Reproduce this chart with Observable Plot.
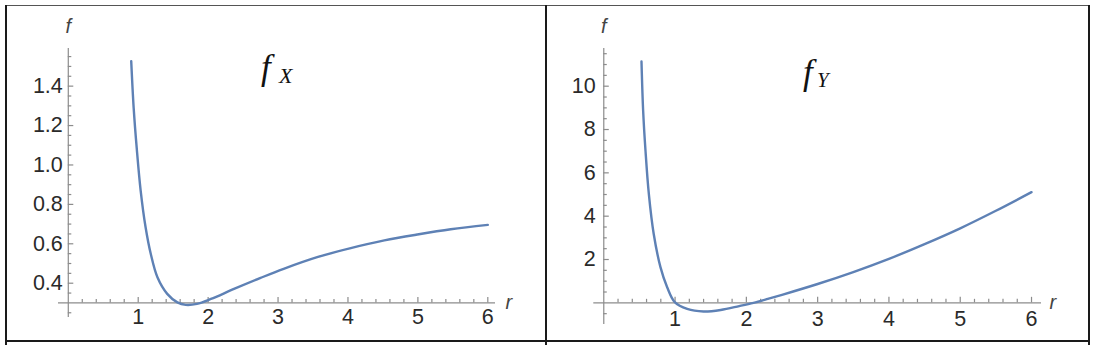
<!DOCTYPE html>
<html>
<head>
<meta charset="utf-8">
<script src="https://cdn.jsdelivr.net/npm/d3@7"></script>
<script src="https://cdn.jsdelivr.net/npm/@observablehq/plot@0.6"></script>
<style>
  html, body { margin: 0; padding: 0; background: #fff; }
  #frame { position: relative; width: 1099px; height: 345px; overflow: hidden; }
  .bd { position: absolute; background: #1a1a1a; }
  .panel { position: absolute; top: 0; }
  .ttl { position: absolute; font-family: "Liberation Serif", "Times New Roman", serif; font-style: italic; line-height: 1; white-space: nowrap; color: #111; }
</style>
</head>
<body>
<div id="frame">
  <div class="bd" style="left:5px;top:5px;width:1085px;height:1px;background:#555"></div>
  <div class="bd" style="left:5px;top:5px;width:2px;height:340px"></div>
  <div class="bd" style="left:545px;top:5px;width:2px;height:340px"></div>
  <div class="bd" style="left:1088px;top:5px;width:2px;height:340px"></div>
  <div class="bd" style="left:5px;top:340px;width:1085px;height:2px"></div>
  <div id="left" class="panel" style="left:0px"></div>
  <div id="right" class="panel" style="left:547px"></div>
  <div class="ttl" style="left:261px;top:50px;font-size:35px">f</div>
  <div class="ttl" style="left:279px;top:65px;font-size:22px">X</div>
  <div class="ttl" style="left:803px;top:55px;font-size:35px">f</div>
  <div class="ttl" style="left:817px;top:70px;font-size:21px">Y</div>
</div>
<script>
// ---- data ----
const rX = [0.90, 0.935, 0.98, 1.035, 1.105, 1.18, 1.275, 1.415, 1.56, 1.68, 1.84, 2.04, 2.37, 2.75, 3.08, 3.56, 4.04, 4.52, 4.99, 5.47, 6.0];
const fX = [1.527, 1.29, 1.08, 0.87, 0.685, 0.548, 0.43, 0.346, 0.303, 0.29, 0.295, 0.32, 0.371, 0.427, 0.473, 0.532, 0.578, 0.617, 0.647, 0.674, 0.696];

const rY = [0.529, 0.552, 0.585, 0.632, 0.70, 0.795, 0.889, 0.996, 1.17, 1.40, 1.64, 1.9, 2.1, 2.3, 2.5, 3.0, 3.5, 4.0, 4.5, 5.0, 5.5, 6.0];
const fY = [11.14, 8.88, 7.03, 5.03, 3.19, 1.65, 0.72, 0.03, -0.28, -0.40, -0.33, -0.15, 0.0, 0.18, 0.37, 0.87, 1.42, 2.03, 2.71, 3.44, 4.25, 5.11];

const rTicks = [1, 2, 3, 4, 5, 6];
const fXTicks = [0.4, 0.6, 0.8, 1.0, 1.2, 1.4];
const fYTicks = [2, 4, 6, 8, 10];
const axisLabels = {y: "f", x: "r"};

// ---- styles ----
const curveColor = "#5E81B5";
const axisColor = "#8c8c8c";
const labelColor = "#2a2a2a";
const font = "'Liberation Sans', Arial, sans-serif";
const tickFont = 21.5;

function panel({data, xDomain, yDomain, crossY, yTicks, yMinor, yFmt, margins, size, yDx, xDy, fDy, rDx}) {
  const xMinor = d3.range(1, 31).filter(i => i % 5 !== 0).map(i => i / 5);
  return Plot.plot({
    width: size[0], height: size[1],
    marginLeft: margins[0], marginRight: margins[1], marginTop: margins[2], marginBottom: margins[3],
    x: {domain: xDomain, axis: null},
    y: {domain: yDomain, axis: null},
    style: {background: "transparent", overflow: "visible", fontFamily: font},
    marks: [
      Plot.ruleY([crossY], {stroke: axisColor, strokeWidth: 1.2}),
      Plot.ruleX([0], {stroke: axisColor, strokeWidth: 1.2}),
      Plot.ruleX(xMinor, {x: d => d, y1: crossY, y2: crossY, insetBottom: 3.5, stroke: axisColor, strokeWidth: 1.2}),
      Plot.ruleX(rTicks, {x: d => d, y1: crossY, y2: crossY, insetBottom: 5.5, stroke: axisColor, strokeWidth: 1.2}),
      Plot.ruleY(yMinor, {y: d => d, x1: 0, x2: 0, insetLeft: 3.5, stroke: axisColor, strokeWidth: 1.2}),
      Plot.ruleY(yTicks, {y: d => d, x1: 0, x2: 0, insetLeft: 5.5, stroke: axisColor, strokeWidth: 1.2}),
      Plot.text(rTicks, {x: d => d, y: crossY, dy: xDy, text: d => String(d), fontSize: tickFont, fill: labelColor}),
      Plot.text(yTicks, {x: 0, y: d => d, dx: yDx, textAnchor: "end", text: yFmt, fontSize: tickFont, fill: labelColor}),
      Plot.text([axisLabels.y], {x: 0, frameAnchor: "top", lineAnchor: "middle", dy: fDy, text: d => d, fontSize: 20, fontStyle: "italic", fill: "#444"}),
      Plot.text([axisLabels.x], {y: crossY, frameAnchor: "right", lineAnchor: "middle", dx: rDx, textAnchor: "start", text: d => d, fontSize: 20, fontStyle: "italic", fill: "#444"}),
      Plot.line(data, {x: "r", y: "f", stroke: curveColor, strokeWidth: 2.4, curve: "catmull-rom"})
    ]
  });
}

const dataX = rX.map((r, i) => ({r, f: fX[i]}));
const dataY = rY.map((r, i) => ({r, f: fY[i]}));

document.getElementById("left").append(panel({
  data: dataX,
  xDomain: [-0.14, 6.11],
  yDomain: [0.226, 1.591],
  crossY: 0.3,
  yTicks: fXTicks,
  yMinor: d3.range(5, 32).filter(i => i % 4 !== 0 && i !== 6).map(i => i / 20),
  yFmt: d => d.toFixed(1),
  margins: [58, 50, 48, 23],
  size: [545, 340],
  yDx: -5.5, xDy: 14.5, fDy: -22, rDx: 10
}));

document.getElementById("right").append(panel({
  data: dataY,
  xDomain: [-0.14, 6.14],
  yDomain: [-1.0, 11.74],
  crossY: 0,
  yTicks: fYTicks,
  yMinor: d3.range(-1, 24).filter(i => i % 4 !== 0).map(i => i / 2),
  yFmt: d => String(d),
  margins: [46.3, 47, 48, 16],
  size: [541, 340],
  yDx: -8, xDy: 16.5, fDy: -22, rDx: 8
}));
</script>
</body>
</html>
